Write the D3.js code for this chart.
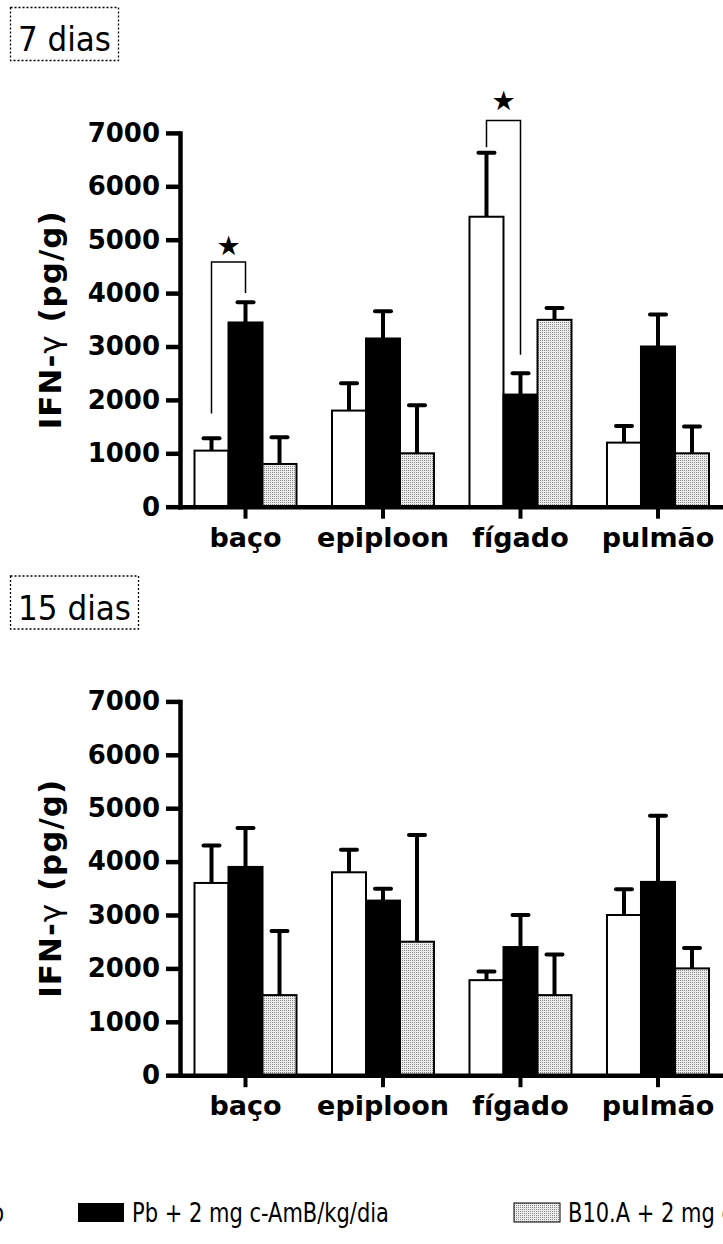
<!DOCTYPE html>
<html>
<head>
<meta charset="utf-8">
<script src="https://cdn.jsdelivr.net/npm/d3@7/dist/d3.min.js"></script>
<style>
  body { margin: 0; background: #fff; }
  svg text { font-family: 'DejaVu Sans', Verdana, sans-serif; }
</style>
</head>
<body>
<div id="chart"></div>
<script>
// categories and series
const organs = ['baço', 'epiploon', 'fígado', 'pulmão'];
const groups = ['controle', 'pb', 'b10a'];
const legendLabels = ['Pb + placebo', 'Pb + 2 mg c-AmB/kg/dia', 'B10.A + 2 mg c-AmB/kg/dia'];
const yTicks = [0, 1000, 2000, 3000, 4000, 5000, 6000, 7000];

// 7 dias (mean and upper error)
const controle7 = [1050, 1800, 5430, 1200];
const pb7 = [3450, 3150, 2100, 3000];
const b10a7 = [800, 1000, 3500, 1000];
const controle7Err = [230, 510, 1200, 310];
const pb7Err = [380, 510, 400, 600];
const b10a7Err = [500, 900, 220, 500];

// 15 dias
const controle15 = [3600, 3800, 1780, 3000];
const pb15 = [3900, 3270, 2400, 3620];
const b10a15 = [1500, 2500, 1500, 2000];
const controle15Err = [700, 420, 160, 480];
const pb15Err = [730, 220, 600, 1240];
const b10a15Err = [1200, 2000, 760, 380];

// significance brackets for 7 dias: [organ, left leg bottom, right leg bottom, top, star]
const brackets7 = [
  ['baço', 1745, 4004, 4582, 4900],
  ['fígado', 6730, 2847, 7234, 7607],
];

const width = 723;
const height = 1244;
const axisX = 180;

const svg = d3.select('#chart')
  .append('svg')
  .attr('width', width)
  .attr('height', height)
  .style('display', 'block');

svg.append('rect').attr('width', width).attr('height', height).attr('fill', '#fff');

// dotted fill for the third series
const pat = svg.append('defs').append('pattern')
  .attr('id', 'dots')
  .attr('width', 2)
  .attr('height', 2)
  .attr('patternUnits', 'userSpaceOnUse');
pat.append('rect').attr('width', 2).attr('height', 2).attr('fill', '#ececec');
pat.append('rect').attr('width', 1).attr('height', 1).attr('fill', '#8a8a8a');

const fills = ['#fff', '#000', 'url(#dots)'];

const x0 = d3.scaleBand()
  .domain(organs)
  .range([178, 725.5])
  .paddingInner(0.258)
  .paddingOuter(0.12);

const x1 = d3.scaleBand()
  .domain(groups)
  .range([0, x0.bandwidth()]);

const panels = [
  { label: '7 dias', dy: 0, boxW: 108, means: [controle7, pb7, b10a7], errs: [controle7Err, pb7Err, b10a7Err], brackets: brackets7 },
  { label: '15 dias', dy: 568.5, boxW: 128, means: [controle15, pb15, b10a15], errs: [controle15Err, pb15Err, b10a15Err], brackets: [] },
];

panels.forEach((p) => {
  const y = d3.scaleLinear().domain([0, 7000]).range([506.7 + p.dy, 132.9 + p.dy]);

  // title box
  svg.append('rect')
    .attr('x', 10.5).attr('y', 7.5 + p.dy)
    .attr('width', p.boxW).attr('height', 53)
    .attr('fill', 'none')
    .attr('stroke', '#000')
    .attr('stroke-width', 1.3)
    .attr('stroke-dasharray', '2,2');
  svg.append('text')
    .attr('x', 18).attr('y', 51 + p.dy)
    .style('font-size', '34px')
    .attr('textLength', p.boxW - 15)
    .attr('lengthAdjust', 'spacingAndGlyphs')
    .text(p.label);

  const rows = [];
  organs.forEach((o, i) => {
    groups.forEach((g, j) => {
      rows.push({ organ: o, group: g, k: j, value: p.means[j][i], err: p.errs[j][i] });
    });
  });

  const chart = svg.append('g');

  // bars
  chart.selectAll('rect.bar')
    .data(rows)
    .enter()
    .append('rect')
      .attr('class', 'bar')
      .attr('x', (d) => x0(d.organ) + x1(d.group))
      .attr('y', (d) => y(d.value))
      .attr('width', x1.bandwidth())
      .attr('height', (d) => y(0) - y(d.value))
      .attr('fill', (d) => fills[d.k])
      .attr('stroke', '#000')
      .attr('stroke-width', 2);

  // error bars (upper only)
  const cx = (d) => x0(d.organ) + x1(d.group) + x1.bandwidth() / 2;
  chart.selectAll('line.err')
    .data(rows)
    .enter()
    .append('line')
      .attr('class', 'err')
      .attr('x1', cx).attr('x2', cx)
      .attr('y1', (d) => y(d.value))
      .attr('y2', (d) => y(d.value + d.err))
      .attr('stroke', '#000')
      .attr('stroke-width', 4);
  chart.selectAll('line.cap')
    .data(rows)
    .enter()
    .append('line')
      .attr('class', 'cap')
      .attr('x1', (d) => cx(d) - 8).attr('x2', (d) => cx(d) + 8)
      .attr('y1', (d) => y(d.value + d.err))
      .attr('y2', (d) => y(d.value + d.err))
      .attr('stroke', '#000')
      .attr('stroke-width', 4)
      .attr('stroke-linecap', 'round');

  // brackets with stars
  p.brackets.forEach((b) => {
    const xl = x0(b[0]) + x1('controle') + x1.bandwidth() / 2;
    const xr = x0(b[0]) + x1('pb') + x1.bandwidth() / 2;
    chart.append('path')
      .attr('d', `M${xl},${y(b[1])}V${y(b[3])}H${xr}V${y(b[2])}`)
      .attr('fill', 'none')
      .attr('stroke', '#000')
      .attr('stroke-width', 1.5);
    chart.append('text')
      .attr('x', (xl + xr) / 2)
      .attr('y', y(b[4]))
      .attr('text-anchor', 'middle')
      .attr('dominant-baseline', 'central')
      .style('font-size', '27px')
      .text('★');
  });

  // y axis
  const yAxis = chart.append('g')
    .attr('transform', `translate(${axisX},0)`)
    .call(d3.axisLeft(y).tickValues(yTicks).tickFormat(d3.format('d')).tickSize(14).tickPadding(6).tickSizeOuter(0));
  yAxis.select('.domain').attr('stroke-width', 4.5).attr('stroke-linecap', 'square');
  yAxis.selectAll('.tick line').attr('stroke-width', 4.5);
  yAxis.selectAll('.tick text')
    .attr('fill', '#000')
    .style('font-size', '26px')
    .style('font-weight', 'bold')
    .style('font-family', "'DejaVu Sans', Verdana, sans-serif");

  // x axis
  const xAxis = chart.append('g')
    .attr('transform', `translate(0,${y(0)})`)
    .call(d3.axisBottom(x0).tickSize(12).tickPadding(9).tickSizeOuter(0));
  xAxis.select('.domain').attr('stroke-width', 4.5);
  xAxis.selectAll('.tick line').attr('stroke-width', 4);
  xAxis.selectAll('.tick text')
    .attr('fill', '#000')
    .style('font-size', '27px')
    .style('font-weight', 'bold')
    .style('font-family', "'DejaVu Sans', Verdana, sans-serif");

  // y axis title
  const title = chart.append('text')
    .attr('transform', `translate(61,${(y(0) + y(7000)) / 2}) rotate(-90)`)
    .attr('text-anchor', 'middle')
    .style('font-size', '31px')
    .style('font-weight', 'bold')
    .style('letter-spacing', '1px');
  title.append('tspan').text('IFN-');
  title.append('tspan').style('font-weight', 'normal').text('γ');
  title.append('tspan').text(' (pg/g)');
});

// legend (cropped at both sides like the source)
const legendX = [-60, 78, 514];
const legend = svg.append('g');
const legendTexts = [];
legendLabels.forEach((name, i) => {
  const item = legend.append('g').attr('transform', `translate(${legendX[i]},1203)`);
  item.append('rect')
    .attr('x', i === 0 ? -46 : 0)
    .attr('width', 46).attr('height', 19)
    .attr('fill', fills[i])
    .attr('stroke', '#000')
    .attr('stroke-width', i === 1 ? 0 : 1);
  const t = item.append('g')
    .attr('transform', `translate(${i === 0 ? 64 : 54},19)`)
    .append('text')
    .attr('text-anchor', i === 0 ? 'end' : 'start')
    .style('font-size', '26px')
    .text(name);
  legendTexts.push(t);
});
// condensed look: squeeze so that the black item's label is ~257px wide
const sx = 257 / legendTexts[1].node().getComputedTextLength();
legendTexts.forEach((t) => t.attr('transform', `scale(${sx},1)`));
</script>
</body>
</html>
